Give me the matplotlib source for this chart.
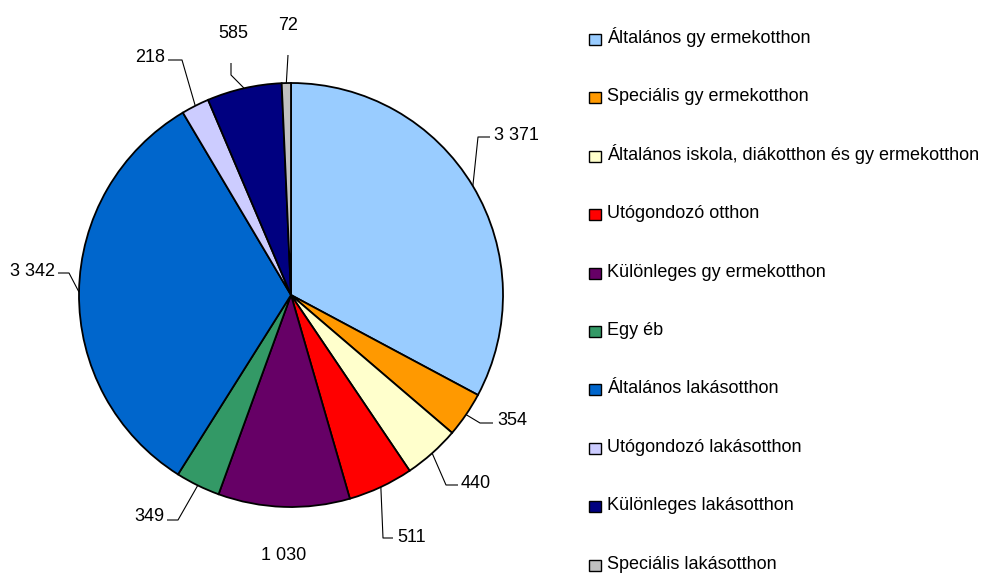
"""
Pie chart: children's homes by type (Hungarian), labels with leader lines
and a manual legend on the right.
"""

import numpy as np
import matplotlib
matplotlib.use('Agg')
import matplotlib.pyplot as plt
from matplotlib import font_manager
from matplotlib.patches import Rectangle

W, H = 986, 576

categories = [
    'Általános gy ermekotthon',
    'Speciális gy ermekotthon',
    'Általános iskola, diákotthon és gy ermekotthon',
    'Utógondozó otthon',
    'Különleges gy ermekotthon',
    'Egy éb',
    'Általános lakásotthon',
    'Utógondozó lakásotthon',
    'Különleges lakásotthon',
    'Speciális lakásotthon',
]
values = [3371, 354, 440, 511, 1030, 349, 3342, 218, 585, 72]
value_labels = ['3 371', '354', '440', '511', '1 030', '349', '3 342', '218', '585', '72']
colors = ['#99CCFF', '#FF9900', '#FFFFCC', '#FF0000', '#660066',
          '#339966', '#0066CC', '#CCCCFF', '#000080', '#C0C0C0']

# label layout in pixels (from top-left): text anchor, alignment, leader points
label_layout = [
    dict(xy=(494, 140), ha='left', leader=[(478, 137), (490, 137)]),
    dict(xy=(497, 425), ha='left', leader=[(480, 423), (493, 423)]),
    dict(xy=(461, 488), ha='left', leader=[(446, 485), (458, 485)]),
    dict(xy=(397, 542), ha='left', leader=[(383, 538), (393, 538)]),
    dict(xy=(284, 560), ha='center', leader=None),
    dict(xy=(164, 521), ha='right', leader=[(178, 520), (167, 520)]),
    dict(xy=(55, 276), ha='right', leader=[(69, 273), (58, 273)]),
    dict(xy=(165, 62), ha='right', leader=[(182, 60), (168, 60)]),
    dict(xy=(233, 38), ha='center', leader=[(231, 75), (231, 63)]),
    dict(xy=(288, 30), ha='center', leader=[(288, 55)]),
]

PIE_CENTER = (291, 295)
PIE_R = 212


def px(x, y):
    # pixel coords (y down) -> data coords (y up)
    return x, H - y


names = {f.name for f in font_manager.fontManager.ttflist}
if 'Liberation Sans Narrow' in names:
    plt.rcParams['font.family'] = ['Liberation Sans Narrow', 'DejaVu Sans']
    FS = 15
else:
    plt.rcParams['font.family'] = ['Liberation Sans', 'DejaVu Sans']
    FS = 13

fig = plt.figure(figsize=(W / 100, H / 100), dpi=100)
ax = fig.add_axes([0, 0, 1, 1])

wedges, _ = ax.pie(values, colors=colors, startangle=90, counterclock=False,
                   center=px(*PIE_CENTER), radius=PIE_R,
                   wedgeprops=dict(edgecolor='black', linewidth=1.3))

cx, cy = px(*PIE_CENTER)
for w, lab, lay in zip(wedges, value_labels, label_layout):
    tx, ty = px(*lay['xy'])
    ax.text(tx, ty, lab, ha=lay['ha'], va='baseline', fontsize=FS, color='black')
    if lay['leader'] is None:
        continue
    mid = np.deg2rad((w.theta1 + w.theta2) / 2)
    pts = [(cx + PIE_R * np.cos(mid), cy + PIE_R * np.sin(mid))]
    pts += [px(*p) for p in lay['leader']]
    xs, ys = zip(*pts)
    ax.plot(xs, ys, color='black', linewidth=0.8, solid_capstyle='butt')

# legend (manual)
LEG_X, LEG_Y0, LEG_DY = 589, 43.0, 58.4
for i, (cat, col) in enumerate(zip(categories, colors)):
    base = LEG_Y0 + i * LEG_DY
    x0, y0 = px(LEG_X, base + 2)
    ax.add_patch(Rectangle((x0, y0), 12, 11, facecolor=col,
                           edgecolor='black', linewidth=1.0))
    tx, ty = px(LEG_X + 18, base)
    ax.text(tx, ty, cat, ha='left', va='baseline', fontsize=FS, color='black')

ax.set_xlim(0, W)
ax.set_ylim(0, H)
ax.set_aspect('equal')
ax.axis('off')

fig.savefig('out.png', dpi=100)
plt.close(fig)
